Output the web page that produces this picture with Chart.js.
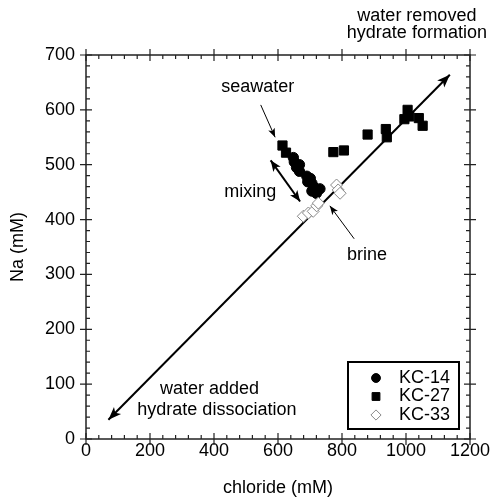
<!DOCTYPE html>
<html>
<head>
<meta charset="utf-8">
<style>
  html, body { margin: 0; padding: 0; background: #fff; }
</style>
<script src="https://cdn.jsdelivr.net/npm/chart.js@4.4.0/dist/chart.umd.min.js"></script>
</head>
<body>
<canvas id="chart" width="493" height="500"></canvas>
<script>
// ------------------------------------------------------------------
// Data (chloride mM vs Na mM)
// ------------------------------------------------------------------
const kc14Cl = [648, 651, 667, 658, 667, 690, 701, 693, 706, 711, 731, 716, 706, 720];
const kc14Na = [513, 505, 500, 495, 488, 479, 475, 469, 466, 460, 456, 454, 452, 448];

const kc27Cl = [614, 625, 773, 806, 880, 937, 940, 995, 1005, 1010, 1040, 1052];
const kc27Na = [535, 522, 523, 526, 555, 565, 550, 583, 600, 588, 585, 571];

const kc33Cl = [679, 695, 710, 721, 726, 783, 788, 794];
const kc33Na = [406, 412, 415, 425, 430, 463, 454, 448];

// trend line (water added <-> water removed)
const trendCl = [70, 1137];
const trendNa = [35, 664];

const xTicks = [0, 200, 400, 600, 800, 1000, 1200];
const yTicks = [0, 100, 200, 300, 400, 500, 600, 700];

// annotation text and arrows, in data units
const notes = [
  { text: 'seawater', cl: 537, na: 642 },
  { text: 'mixing', cl: 513, na: 451 },
  { text: 'brine', cl: 878, na: 336 },
  { text: 'water removed', cl: 1034, na: 771 },
  { text: 'hydrate formation', cl: 1034, na: 740 },
  { text: 'water added', cl: 386, na: 92 },
  { text: 'hydrate dissociation', cl: 409, na: 52 },
];
const arrows = [
  { from: [546, 609], to: [591, 550], both: false, width: 1 },
  { from: [838, 365], to: [762, 425], both: false, width: 1 },
  { from: [669, 433], to: [577, 508], both: true, width: 2 },
];

const FONT = 'Helvetica, "Liberation Sans", Arial, sans-serif';

const toPts = (xs, ys) => xs.map((x, i) => ({ x, y: ys[i] }));

function arrowHead(ctx, tx, ty, fx, fy, len, half) {
  const a = Math.atan2(ty - fy, tx - fx);
  ctx.beginPath();
  ctx.moveTo(tx, ty);
  ctx.lineTo(tx - len * Math.cos(a) + half * Math.sin(a), ty - len * Math.sin(a) - half * Math.cos(a));
  ctx.lineTo(tx - len * 0.75 * Math.cos(a), ty - len * 0.75 * Math.sin(a));
  ctx.lineTo(tx - len * Math.cos(a) - half * Math.sin(a), ty - len * Math.sin(a) + half * Math.cos(a));
  ctx.closePath();
  ctx.fill();
}

// frame with ticks crossing the axes, minor ticks inside
const framePlugin = {
  id: 'frame',
  afterDatasetsDraw(chart) {
    const { ctx, chartArea: a, scales: { x, y } } = chart;
    ctx.save();
    ctx.strokeStyle = '#222';
    ctx.lineWidth = 1.5;
    ctx.strokeRect(a.left, a.top, a.right - a.left, a.bottom - a.top);
    ctx.lineWidth = 1.2;
    ctx.beginPath();
    for (let v = 0; v <= 1200; v += 40) {
      const px = x.getPixelForValue(v);
      const major = v % 200 === 0;
      ctx.moveTo(px, a.bottom + (major ? 6 : 0)); ctx.lineTo(px, a.bottom - (major ? 6 : 4));
      ctx.moveTo(px, a.top - (major ? 6 : 0)); ctx.lineTo(px, a.top + (major ? 6 : 4));
    }
    for (let v = 0; v <= 700; v += 20) {
      const py = y.getPixelForValue(v);
      const major = v % 100 === 0;
      ctx.moveTo(a.left - (major ? 6 : 0), py); ctx.lineTo(a.left + (major ? 6 : 4), py);
      ctx.moveTo(a.right + (major ? 6 : 0), py); ctx.lineTo(a.right - (major ? 6 : 4), py);
    }
    ctx.stroke();
    ctx.restore();
  },
  afterDraw(chart) {
    const { ctx, chartArea: a, scales: { x, y } } = chart;
    ctx.save();
    ctx.fillStyle = '#000';
    ctx.strokeStyle = '#000';

    // arrowheads on the trend line
    const pts = chart.getDatasetMeta(3).data;
    const p0 = pts[0], p1 = pts[1];
    arrowHead(ctx, p0.x, p0.y, p1.x, p1.y, 13, 5);
    arrowHead(ctx, p1.x, p1.y, p0.x, p0.y, 13, 5);

    arrows.forEach(ar => {
      const fx = x.getPixelForValue(ar.from[0]), fy = y.getPixelForValue(ar.from[1]);
      const tx = x.getPixelForValue(ar.to[0]), ty = y.getPixelForValue(ar.to[1]);
      ctx.lineWidth = ar.width;
      ctx.beginPath(); ctx.moveTo(fx, fy); ctx.lineTo(tx, ty); ctx.stroke();
      const len = ar.width > 1 ? 11 : 9, half = ar.width > 1 ? 4.5 : 3.5;
      arrowHead(ctx, tx, ty, fx, fy, len, half);
      if (ar.both) arrowHead(ctx, fx, fy, tx, ty, len, half);
    });

    ctx.font = '18px ' + FONT;
    ctx.textAlign = 'center';
    ctx.textBaseline = 'middle';
    notes.forEach(n => ctx.fillText(n.text, x.getPixelForValue(n.cl), y.getPixelForValue(n.na)));

    // legend box
    const bx = a.right - 122, by = a.bottom - 77, bw = 111, bh = 67;
    ctx.lineWidth = 2;
    ctx.strokeStyle = '#000';
    ctx.strokeRect(bx, by, bw, bh);
    ctx.textAlign = 'left';
    [0, 1, 2].forEach((i, row) => {
      const ds = chart.data.datasets[i];
      const cy = by + 16 + row * 18.5;
      ctx.fillStyle = ds.backgroundColor;
      ctx.strokeStyle = ds.borderColor;
      ctx.lineWidth = ds.borderWidth;
      Chart.helpers.drawPoint(ctx, {
        pointStyle: ds.pointStyle, radius: ds.pointRadius * 0.85, borderWidth: ds.borderWidth, rotation: 0,
      }, bx + 28, cy);
      ctx.fillStyle = '#000';
      ctx.fillText(ds.label, bx + 51, cy);
    });
    ctx.restore();
  },
};

new Chart(document.getElementById('chart'), {
  type: 'scatter',
  data: {
    datasets: [
      { label: 'KC-14', data: toPts(kc14Cl, kc14Na), pointStyle: 'circle', pointRadius: 5.2, backgroundColor: '#000', borderColor: '#000', borderWidth: 1, order: 2 },
      { label: 'KC-27', data: toPts(kc27Cl, kc27Na), pointStyle: 'rect', pointRadius: 6.5, backgroundColor: '#000', borderColor: '#000', borderWidth: 1, order: 3 },
      { label: 'KC-33', data: toPts(kc33Cl, kc33Na), pointStyle: 'rectRot', pointRadius: 6, backgroundColor: '#fff', borderColor: '#888', borderWidth: 1, order: 1 },
      { label: 'trend', type: 'line', data: toPts(trendCl, trendNa), showLine: true, pointRadius: 0, borderColor: '#000', borderWidth: 2, fill: false, order: 10 },
    ],
  },
  options: {
    responsive: false,
    animation: false,
    devicePixelRatio: 1,
    layout: { padding: { left: 0, top: 55, right: 23, bottom: 0 } },
    plugins: { legend: { display: false }, tooltip: { enabled: false } },
    scales: {
      x: {
        type: 'linear', min: 0, max: 1200,
        afterBuildTicks: s => { s.ticks = xTicks.map(v => ({ value: v })); },
        afterFit: s => { s.height = 61; },
        grid: { display: false, drawTicks: false },
        border: { display: false },
        ticks: { color: '#000', font: { size: 18, family: FONT }, padding: 1, maxRotation: 0, callback: v => String(v) },
        title: { display: true, text: 'chloride (mM)', color: '#000', font: { size: 18, family: FONT }, padding: { top: 0, bottom: 1 } },
      },
      y: {
        type: 'linear', min: 0, max: 700,
        afterBuildTicks: s => { s.ticks = yTicks.map(v => ({ value: v })); },
        afterFit: s => { s.width = 86; },
        grid: { display: false, drawTicks: false },
        border: { display: false },
        ticks: { color: '#000', font: { size: 18, family: FONT }, padding: 11, callback: v => String(v) },
        title: { display: true, text: 'Na (mM)', color: '#000', font: { size: 18, family: FONT }, padding: { top: 7, bottom: 0 } },
      },
    },
  },
  plugins: [framePlugin],
});
</script>
</body>
</html>
